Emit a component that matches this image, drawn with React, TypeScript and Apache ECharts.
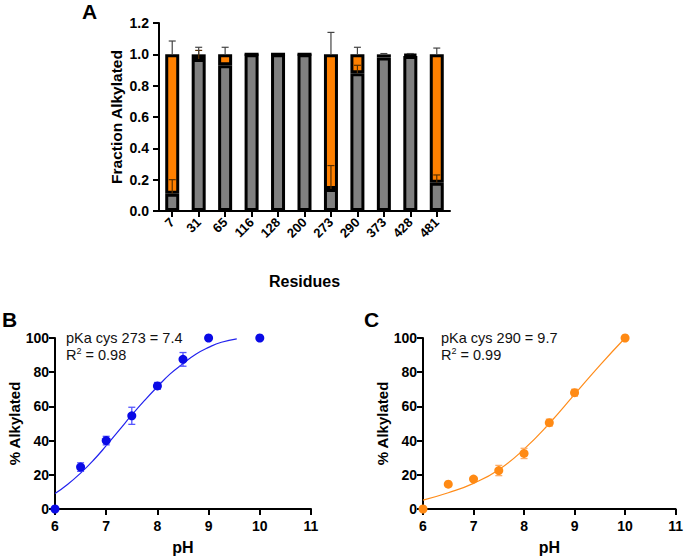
import React, { useEffect, useRef } from "react";
import * as echarts from "echarts";

// Panel A
const residues = ["7", "31", "65", "116", "128", "200", "273", "290", "373", "428", "481"];
const grayFraction = [0.11, 0.97, 0.93, 1.0, 1.0, 1.0, 0.14, 0.88, 0.98, 0.99, 0.18];
// error bars [categoryIndex, low, high]
const grayErrors = [
  [0, 0.11, 0.2],
  [1, 0.97, 1.025],
  [6, 0.14, 0.29],
  [7, 0.88, 0.93],
  [10, 0.18, 0.23],
];
const orangeErrors = [
  [0, 1.0, 1.085],
  [1, 1.0, 1.045],
  [2, 1.0, 1.045],
  [6, 1.0, 1.14],
  [7, 1.0, 1.045],
  [8, 1.0, 1.005],
  [9, 1.0, 1.005],
  [10, 1.0, 1.04],
];

// Panel B (cys 273)
const phB = [6, 6.5, 7, 7.5, 8, 8.5, 9, 10];
const alkB = [0, 24.5, 40, 54.5, 72, 87.5, 100, 100];
const errB = [
  [6.5, 22, 27],
  [7, 37.5, 42.5],
  [7.5, 49.5, 59.5],
  [8, 70, 74],
  [8.5, 83.5, 91.5],
];
const fitPhB = [6, 6.25, 6.5, 6.75, 7, 7.25, 7.5, 7.75, 8, 8.25, 8.5, 8.75, 9, 9.25, 9.55];
const fitB = [9, 14.5, 21, 28.5, 37, 46, 55, 63.5, 71.5, 79, 85, 90.5, 94.5, 97.5, 99.5];

// Panel C (cys 290)
const phC = [6, 6.5, 7, 7.5, 8, 8.5, 9, 10];
const alkC = [0, 14.5, 17.5, 22.5, 32.5, 50.5, 68, 100];
const errC = [
  [7.5, 19.5, 25.5],
  [8, 29.5, 35.5],
  [8.5, 48.5, 52.5],
  [9, 66, 70],
];
const fitPhC = [6, 6.5, 7, 7.5, 8, 8.5, 9, 9.5, 10];
const fitC = [5.2, 9.5, 15, 23, 35, 50, 67, 84, 100];

const FONT = "Liberation Sans, Arial, sans-serif";

function errorSeries(name: string, data: number[][], xi: number, yi: number, color: string, capHalf: number, z: number) {
  return {
    name,
    type: "custom",
    xAxisIndex: xi,
    yAxisIndex: yi,
    z,
    data,
    renderItem: (params: any, api: any) => {
      const x = api.value(0);
      const p1 = api.coord([x, api.value(1)]);
      const p2 = api.coord([x, api.value(2)]);
      const style = { stroke: color, lineWidth: 1.2 };
      return {
        type: "group",
        children: [
          { type: "line", shape: { x1: p1[0], y1: p1[1], x2: p2[0], y2: p2[1] }, style },
          { type: "line", shape: { x1: p2[0] - capHalf, y1: p2[1], x2: p2[0] + capHalf, y2: p2[1] }, style },
        ],
      };
    },
  };
}

function scatterErr(name: string, data: number[][], xi: number, yi: number, color: string) {
  return {
    name,
    type: "custom",
    xAxisIndex: xi,
    yAxisIndex: yi,
    z: 4,
    data,
    renderItem: (params: any, api: any) => {
      const x = api.value(0);
      const p1 = api.coord([x, api.value(1)]);
      const p2 = api.coord([x, api.value(2)]);
      const style = { stroke: color, lineWidth: 1.3 };
      return {
        type: "group",
        children: [
          { type: "line", shape: { x1: p1[0], y1: p1[1], x2: p2[0], y2: p2[1] }, style },
          { type: "line", shape: { x1: p2[0] - 3.5, y1: p2[1], x2: p2[0] + 3.5, y2: p2[1] }, style },
          { type: "line", shape: { x1: p1[0] - 3.5, y1: p1[1], x2: p1[0] + 3.5, y2: p1[1] }, style },
        ],
      };
    },
  };
}

const axisLineStyle = { lineStyle: { color: "#000", width: 2 } };
const tickStyle = { show: true, length: 6, lineStyle: { color: "#000", width: 2 } };
const boldLabel = { color: "#000", fontWeight: "bold", fontFamily: FONT, fontSize: 14 };
const nameStyle = { color: "#000", fontWeight: "bold", fontFamily: FONT, fontSize: 15 };

function phXAxis(gridIndex: number) {
  return {
    type: "value",
    gridIndex,
    min: 6,
    max: 11,
    interval: 1,
    name: "pH",
    nameLocation: "middle",
    nameGap: 30,
    nameTextStyle: { ...nameStyle, fontSize: 16 },
    axisLine: { show: true, onZero: false, ...axisLineStyle },
    axisTick: tickStyle,
    axisLabel: { ...boldLabel, margin: 10 },
    splitLine: { show: false },
  };
}

function pctYAxis(gridIndex: number) {
  return {
    type: "value",
    gridIndex,
    min: 0,
    max: 100,
    interval: 20,
    name: "% Alkylated",
    nameLocation: "middle",
    nameGap: 33,
    nameTextStyle: nameStyle,
    axisLine: { show: true, ...axisLineStyle },
    axisTick: { ...tickStyle, length: 6 },
    axisLabel: { ...boldLabel, margin: 6 },
    splitLine: { show: false },
  };
}

export default function App() {
  const ref = useRef<HTMLDivElement>(null);
  useEffect(() => {
    if (!ref.current) return;
    const chart = echarts.init(ref.current, null, { renderer: "svg" });
    const orangeFraction = grayFraction.map((g) => +(1 - g).toFixed(3));
    const option: any = {
      animation: false,
      backgroundColor: "#fff",
      textStyle: { fontFamily: FONT },
      grid: [
        { left: 159, right: 236, top: 23, bottom: 346 },
        { left: 55, right: 375, top: 338, bottom: 48 },
        { left: 423, right: 6, top: 338, bottom: 48 },
      ],
      xAxis: [
        {
          type: "category",
          gridIndex: 0,
          data: residues,
          name: "Residues",
          nameLocation: "middle",
          nameGap: 62,
          nameTextStyle: { ...nameStyle, fontSize: 16 },
          axisLine: axisLineStyle,
          axisTick: { show: true, alignWithLabel: true, length: 6, lineStyle: { color: "#000", width: 2 } },
          axisLabel: { ...boldLabel, fontSize: 13, rotate: 45, margin: 9, interval: 0 },
        },
        phXAxis(1),
        phXAxis(2),
      ],
      yAxis: [
        {
          type: "value",
          gridIndex: 0,
          min: 0,
          max: 1.2,
          interval: 0.2,
          name: "Fraction Alkylated",
          nameLocation: "middle",
          nameGap: 35,
          nameTextStyle: { ...nameStyle, fontSize: 15.5 },
          axisLine: { show: true, ...axisLineStyle },
          axisTick: tickStyle,
          axisLabel: { ...boldLabel, margin: 10, formatter: (v: number) => v.toFixed(1) },
          splitLine: { show: false },
        },
        pctYAxis(1),
        pctYAxis(2),
      ],
      series: [
        {
          name: "unalkylated fraction",
          type: "bar",
          stack: "a",
          xAxisIndex: 0,
          yAxisIndex: 0,
          barWidth: 14,
          data: grayFraction,
          itemStyle: { color: "#808080", borderColor: "#000", borderWidth: 3 },
        },
        {
          name: "alkylated fraction",
          type: "bar",
          stack: "a",
          xAxisIndex: 0,
          yAxisIndex: 0,
          barWidth: 14,
          data: orangeFraction,
          itemStyle: { color: "#ff8000", borderColor: "#000", borderWidth: 3 },
        },
        errorSeries("gray err", grayErrors, 0, 0, "#5a3000", 3.5, 5),
        errorSeries("orange err", orangeErrors, 0, 0, "#444", 3.5, 5),
        {
          name: "fit B",
          type: "line",
          xAxisIndex: 1,
          yAxisIndex: 1,
          smooth: true,
          showSymbol: false,
          data: fitPhB.map((x, i) => [x, fitB[i]]),
          lineStyle: { color: "#2222ee", width: 1.2 },
          z: 3,
        },
        scatterErr("err B", errB, 1, 1, "#5555ff"),
        {
          name: "data B",
          type: "scatter",
          xAxisIndex: 1,
          yAxisIndex: 1,
          symbolSize: 9,
          data: phB.map((x, i) => [x, alkB[i]]),
          itemStyle: { color: "#0a0ae6", opacity: 1 },
          z: 5,
        },
        {
          name: "fit C",
          type: "line",
          xAxisIndex: 2,
          yAxisIndex: 2,
          smooth: true,
          showSymbol: false,
          data: fitPhC.map((x, i) => [x, fitC[i]]),
          lineStyle: { color: "#ff8c1a", width: 1.2 },
          z: 3,
        },
        scatterErr("err C", errC, 2, 2, "#ffad66"),
        {
          name: "data C",
          type: "scatter",
          xAxisIndex: 2,
          yAxisIndex: 2,
          symbolSize: 9,
          data: phC.map((x, i) => [x, alkC[i]]),
          itemStyle: { color: "#ff8a14", opacity: 1 },
          z: 5,
        },
      ],
      graphic: [
        { type: "text", left: 82, top: 1, style: { text: "A", font: `bold 21px ${FONT}`, fill: "#000" } },
        { type: "text", left: 2, top: 309, style: { text: "B", font: `bold 21px ${FONT}`, fill: "#000" } },
        { type: "text", left: 364, top: 309, style: { text: "C", font: `bold 21px ${FONT}`, fill: "#000" } },
        { type: "text", left: 66, top: 330, style: { text: "pKa cys 273 = 7.4", font: `14.5px ${FONT}`, fill: "#111" } },
        {
          type: "text",
          left: 66,
          top: 346,
          style: {
            text: "{r|R}{s|2}{r| = 0.98}",
            rich: {
              r: { font: `14.5px ${FONT}`, fill: "#111", verticalAlign: "bottom" },
              s: { font: `9px ${FONT}`, fill: "#111", verticalAlign: "top", padding: [0, 0, 7, 0] },
            },
          },
        },
        { type: "text", left: 441, top: 330, style: { text: "pKa cys 290 = 9.7", font: `14.5px ${FONT}`, fill: "#111" } },
        {
          type: "text",
          left: 441,
          top: 346,
          style: {
            text: "{r|R}{s|2}{r| = 0.99}",
            rich: {
              r: { font: `14.5px ${FONT}`, fill: "#111", verticalAlign: "bottom" },
              s: { font: `9px ${FONT}`, fill: "#111", verticalAlign: "top", padding: [0, 0, 7, 0] },
            },
          },
        },
      ],
    };
    chart.setOption(option);
    return () => chart.dispose();
  }, []);
  return <div ref={ref} style={{ width: 686, height: 557, position: "absolute", left: 0, top: 0 }} />;
}
